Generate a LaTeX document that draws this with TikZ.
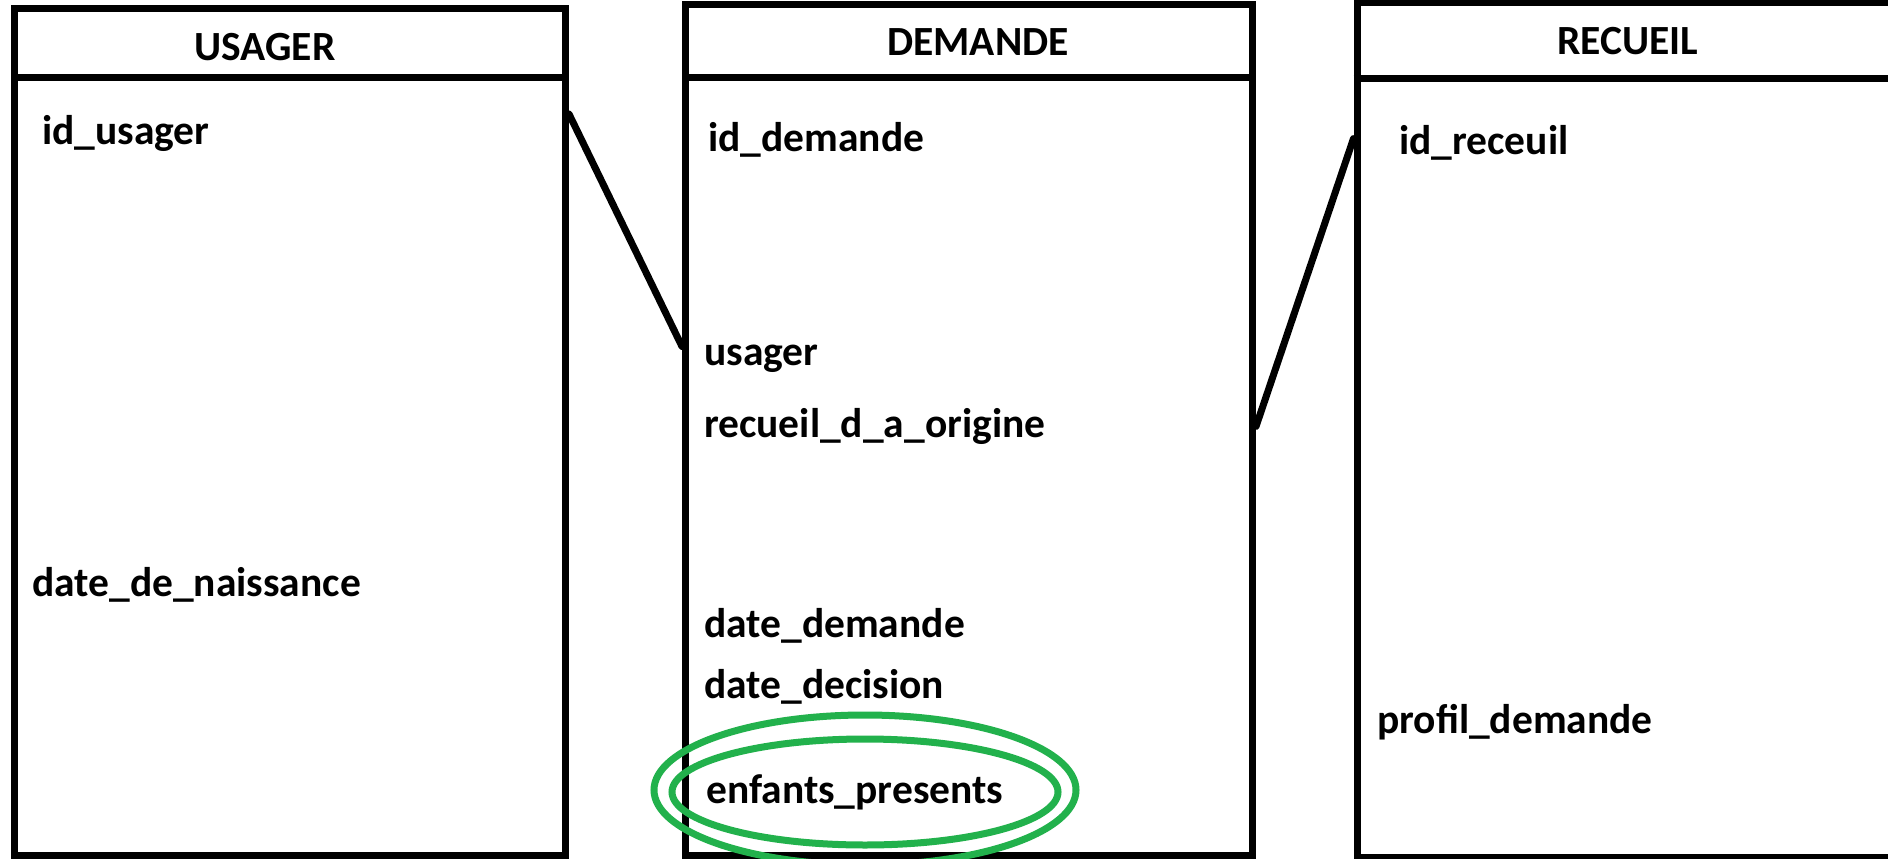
\documentclass[tikz,border=0pt]{standalone}
\usepackage{fontspec}
\setmainfont{Carlito}
\usetikzlibrary{calc}
\definecolor{paintgreen}{RGB}{34,177,76}
\begin{document}
\begin{tikzpicture}[x=1pt,y=-1pt,
  tbl/.style={draw=black, line width=7pt, rectangle, inner sep=0pt},
  field/.style={anchor=base west, inner sep=0pt, font=\fontsize{41.5}{48}\selectfont\bfseries},
  head/.style={anchor=base, inner sep=0pt, font=\fontsize{41.5}{48}\selectfont\bfseries},
  link/.style={line width=7pt, draw=black},
  ring/.style={draw=paintgreen, line width=7pt}
]
\useasboundingbox (0,0) rectangle (1888,859);
\clip (0,0) rectangle (1888,859);
\fill[white] (0,0) rectangle (1888,859);

% tables
\node[tbl, minimum width=551pt, minimum height=847pt] (usager) at (290,432) {};
\node[tbl, minimum width=567pt, minimum height=850pt] (demande) at (969,430) {};
\node[tbl, minimum width=603pt, minimum height=854pt] (recueil) at (1658.5,430) {};

% header dividers
\draw[link] (usager.west |- 0,78) -- (usager.east |- 0,78);
\draw[link] (demande.west |- 0,78) -- (demande.east |- 0,78);
\draw[link] (recueil.west |- 0,79) -- (recueil.east |- 0,79);

% headers
\node[head] (hUsager) at (265,60) {USAGER};
\node[head] (hDemande) at (978,56) {DEMANDE};
\node[head] (hRecueil) at (1628,55) {RECUEIL};

% fields
\node[field] (fIdUsager) at (42,144) {id\_usager};
\node[field] (fNaissance) at (32,596) {date\_de\_naissance};

\node[field] (fIdDemande) at (708,151) {id\_demande};
\node[field] (fUsager) at (704,365) {usager};
\node[field] (fRecueil) at (704,437) {recueil\_d\_a\_origine};
\node[field] (fDateDemande) at (704,637) {date\_demande};
\node[field] (fDateDecision) at (704,698) {date\_decision};
\node[field] (fEnfants) at (706,803) {enfants\_presents};

\node[field] (fIdRecueil) at (1399,154) {id\_receuil};
\node[field] (fProfil) at (1377,733) {profil\_demande};

% connectors
\coordinate (uOut) at ($(usager.north east)+(0,109)$);
\coordinate (dIn) at ($(demande.north west)+(0,345)$);
\coordinate (dOut) at ($(demande.north east)+(0,425)$);
\coordinate (rIn) at ($(recueil.north west)+(0,139)$);
\draw[link, line cap=round] (uOut) -- (dIn);
\draw[link, line cap=round] (dOut) -- (rIn);

% green highlight around enfants_presents
\draw[ring] (865,792) ellipse [x radius=193, y radius=53];
\draw[ring] (865,790) ellipse [x radius=211, y radius=75];
\end{tikzpicture}
\end{document}
